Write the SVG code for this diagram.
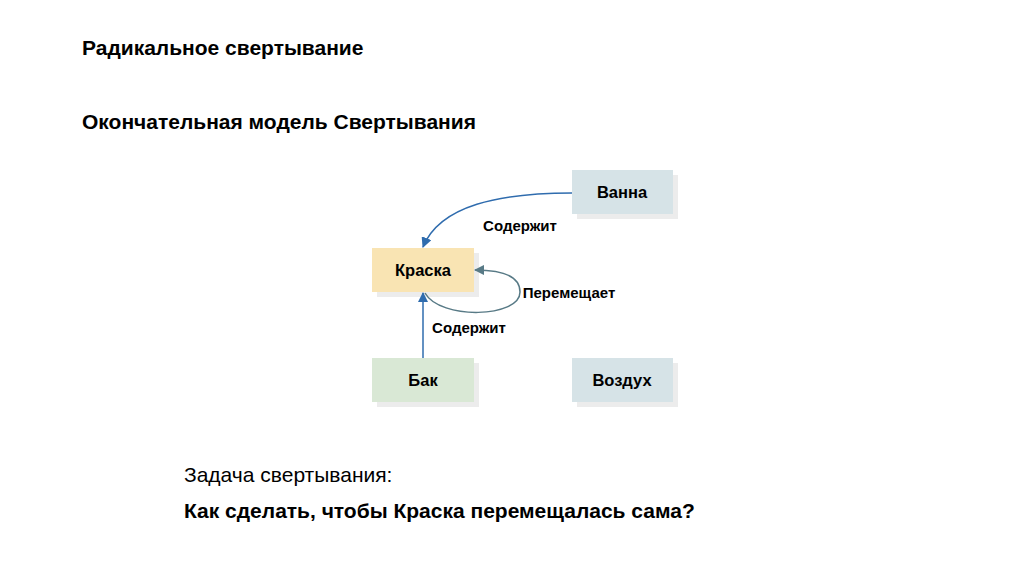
<svg xmlns="http://www.w3.org/2000/svg" width="1024" height="574" viewBox="0 0 1024 574">
<style>
text{font-family:"Liberation Sans",Arial,sans-serif;fill:#000}
.b{font-weight:bold}
.sh{fill:#ececec}
.lbl{font-size:16.5px;font-weight:bold;text-anchor:middle}
.el{font-size:15px;font-weight:bold;text-anchor:middle}
</style>
<defs>
<marker id="ab" viewBox="0 0 10 10" refX="9" refY="5" markerWidth="7" markerHeight="7" orient="auto"><path d="M0,0L10,5L0,10z" fill="#2f6cae"/></marker>
<marker id="ag" viewBox="0 0 10 10" refX="9" refY="5" markerWidth="7" markerHeight="7" orient="auto"><path d="M0,0L10,5L0,10z" fill="#587a86"/></marker>
</defs>
<rect width="1024" height="574" fill="#fff"/>
<text x="82" y="55" font-size="21" class="b">Радикальное свертывание</text>
<text x="82" y="129" font-size="21" class="b">Окончательная модель Свертывания</text>
<g id="vanna"><rect x="577" y="175" width="101" height="44" class="sh"/><rect x="572" y="170" width="101" height="44" fill="#d6e3e7"/><text x="622" y="198" class="lbl">Ванна</text></g>
<g id="kraska"><rect x="377" y="253" width="102" height="44" class="sh"/><rect x="372" y="248" width="102" height="44" fill="#f9e4b3"/><text x="423" y="276" class="lbl">Краска</text></g>
<g id="bak"><rect x="377" y="363" width="102" height="44" class="sh"/><rect x="372" y="358" width="102" height="44" fill="#d9e8d5"/><text x="423" y="386" class="lbl">Бак</text></g>
<g id="vozduh"><rect x="577" y="363" width="101" height="44" class="sh"/><rect x="572" y="358" width="101" height="44" fill="#d6e3e7"/><text x="622" y="386" class="lbl">Воздух</text></g>
<g id="connectors" fill="none" stroke-width="1.5">
<path d="M572,193 C500,193 440,205 423,247" stroke="#2f6cae" marker-end="url(#ab)"/>
<path d="M423,358 L423,293" stroke="#2f6cae" marker-end="url(#ab)"/>
<path d="M425,293 C440,320 520,318 520,292 C520,275 500,270 475,270" stroke="#587a86" marker-end="url(#ag)"/>
</g>
<text x="520" y="231" class="el">Содержит</text>
<text x="569" y="298" class="el">Перемещает</text>
<text x="469" y="333" class="el">Содержит</text>
<text x="184" y="482" font-size="21">Задача свертывания:</text>
<text x="184" y="518" font-size="21" class="b">Как сделать, чтобы Краска перемещалась сама?</text>
</svg>
